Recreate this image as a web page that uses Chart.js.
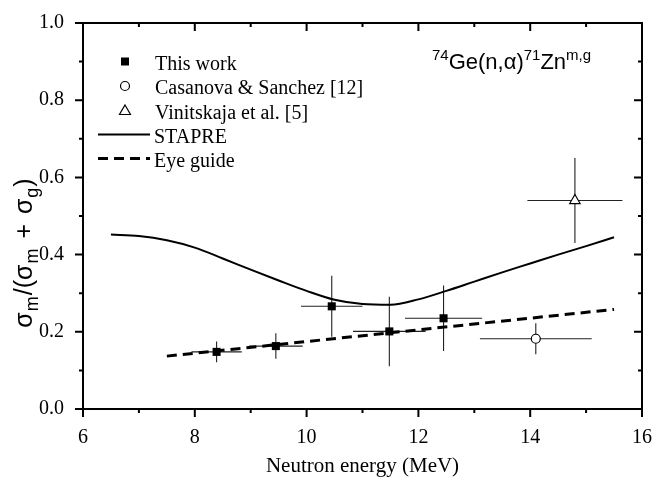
<!DOCTYPE html>
<html>
<head>
<meta charset="utf-8">
<script src="https://cdn.jsdelivr.net/npm/chart.js@4.4.0/dist/chart.umd.min.js"></script>
<style>
  html, body { margin: 0; padding: 0; background: #ffffff; }
  #wrap { width: 665px; height: 479px; }
</style>
</head>
<body>
<div id="wrap"><canvas id="c" width="665" height="479"></canvas></div>
<script>
// Isomeric cross-section ratio for 74Ge(n,alpha)71Zn(m,g)

// This work: neutron energy (MeV), ratio, and their uncertainties
const thisWorkE  = [8.39, 9.45, 10.45, 11.48, 12.45];
const thisWorkR  = [0.148, 0.163, 0.266, 0.201, 0.235];
const thisWorkDE = [0.45, 0.48, 0.55, 0.65, 0.69];
const thisWorkDR = [0.027, 0.033, 0.079, 0.090, 0.085];

// Casanova & Sanchez [12]
const casanovaE  = [14.1];
const casanovaR  = [0.182];
const casanovaDE = [1.0];
const casanovaDR = [0.040];

// Vinitskaja et al. [5]
const vinitE  = [14.8];
const vinitR  = [0.540];
const vinitDE = [0.85];
const vinitDR = [0.110];

// STAPRE model calculation
const stapreE = [6.5, 7.0, 7.5, 8.0, 8.5, 9.0, 9.5, 10.0, 10.5, 11.0, 11.5, 12.0, 12.5, 13.0, 13.5, 14.0, 14.5, 15.0, 15.5];
const stapreR = [0.452, 0.448, 0.437, 0.418, 0.390, 0.361, 0.333, 0.306, 0.283, 0.272, 0.270, 0.284, 0.306, 0.330, 0.354, 0.377, 0.400, 0.422, 0.445];

// Eye guide through the measured points
const guideE = [7.5, 15.5];
const guideR = [0.137, 0.258];

// Axis ticks
const xMajor = [6, 8, 10, 12, 14, 16];
const xMinor = [7, 9, 11, 13, 15];
const yMajor = [0.0, 0.2, 0.4, 0.6, 0.8, 1.0];
const yMinor = [0.1, 0.3, 0.5, 0.7, 0.9];

const legendLabels = ['This work', 'Casanova & Sanchez [12]', 'Vinitskaja et al. [5]', 'STAPRE', 'Eye guide'];

const SERIF = '"Liberation Serif", "Times New Roman", serif';
const SANS = '"Liberation Sans", Arial, sans-serif';

const pts = (xs, ys) => xs.map((x, i) => ({ x: x, y: ys[i] }));

const datasets = [
  {
    label: legendLabels[0], data: pts(thisWorkE, thisWorkR),
    errX: thisWorkDE, errY: thisWorkDR,
    pointStyle: 'rect', pointRadius: 5.7, pointBackgroundColor: '#000', pointBorderColor: '#000', pointBorderWidth: 0,
    showLine: false, order: 0
  },
  {
    label: legendLabels[1], data: pts(casanovaE, casanovaR),
    errX: casanovaDE, errY: casanovaDR,
    pointStyle: 'circle', pointRadius: 4.5, pointBackgroundColor: '#fff', pointBorderColor: '#000', pointBorderWidth: 1.2,
    showLine: false, order: 0
  },
  {
    label: legendLabels[2], data: pts(vinitE, vinitR),
    errX: vinitDE, errY: vinitDR,
    pointStyle: 'triangle', pointRadius: 6, pointBackgroundColor: '#fff', pointBorderColor: '#000', pointBorderWidth: 1.2,
    showLine: false, order: 0
  },
  {
    label: legendLabels[3], data: pts(stapreE, stapreR),
    showLine: true, borderColor: '#000', borderWidth: 2, pointRadius: 0,
    cubicInterpolationMode: 'monotone', fill: false, order: 2
  },
  {
    label: legendLabels[4], data: pts(guideE, guideR),
    showLine: true, borderColor: '#000', borderWidth: 3, borderDash: [10, 6], pointRadius: 0,
    fill: false, order: 1
  }
];

// Horizontal and vertical uncertainty bars, drawn beneath the markers
const errorBars = {
  id: 'errorBars',
  beforeDatasetsDraw(chart) {
    const { ctx, scales: { x, y } } = chart;
    ctx.save();
    ctx.strokeStyle = '#222';
    ctx.lineWidth = 1.1;
    chart.data.datasets.forEach(ds => {
      if (!ds.errX) return;
      ds.data.forEach((p, i) => {
        const px = x.getPixelForValue(p.x), py = y.getPixelForValue(p.y);
        const x0 = x.getPixelForValue(p.x - ds.errX[i]), x1 = x.getPixelForValue(p.x + ds.errX[i]);
        const y0 = y.getPixelForValue(p.y - ds.errY[i]), y1 = y.getPixelForValue(p.y + ds.errY[i]);
        ctx.beginPath();
        ctx.moveTo(x0, py); ctx.lineTo(x1, py);
        ctx.moveTo(px, y0); ctx.lineTo(px, y1);
        ctx.stroke();
      });
    });
    ctx.restore();
  }
};

// Box frame with outward ticks on bottom/left and inward ticks on top/right
const frame = {
  id: 'frame',
  afterDatasetsDraw(chart) {
    const { ctx, chartArea: { left, right, top, bottom }, scales: { x, y } } = chart;
    ctx.save();
    ctx.strokeStyle = '#000';
    ctx.lineWidth = 2;
    ctx.strokeRect(left, top, right - left, bottom - top);
    const major = 8, minor = 4;
    ctx.beginPath();
    const xt = (v, len) => {
      const px = x.getPixelForValue(v);
      ctx.moveTo(px, bottom); ctx.lineTo(px, bottom + len);
      ctx.moveTo(px, top); ctx.lineTo(px, top + len);
    };
    const yt = (v, len) => {
      const py = y.getPixelForValue(v);
      ctx.moveTo(left, py); ctx.lineTo(left - len, py);
      ctx.moveTo(right, py); ctx.lineTo(right - len, py);
    };
    xMajor.forEach(v => xt(v, major));
    xMinor.forEach(v => xt(v, minor));
    yMajor.forEach(v => yt(v, major));
    yMinor.forEach(v => yt(v, minor));
    ctx.stroke();
    ctx.restore();
  }
};

// Draw a run of text pieces with optional sub/superscripts
function drawRuns(ctx, runs, x, y) {
  let cx = x;
  runs.forEach(r => {
    ctx.font = r.font;
    ctx.fillText(r.t, cx, y + (r.dy || 0));
    cx += ctx.measureText(r.t).width + (r.gap || 0);
  });
  return cx;
}
function runsWidth(ctx, runs) {
  let w = 0;
  runs.forEach(r => { ctx.font = r.font; w += ctx.measureText(r.t).width + (r.gap || 0); });
  return w;
}

// Legend, reaction label and y-axis title
const annotations = {
  id: 'annotations',
  afterDraw(chart) {
    const { ctx } = chart;
    ctx.save();
    ctx.fillStyle = '#000';
    ctx.strokeStyle = '#000';
    ctx.textBaseline = 'alphabetic';
    ctx.textAlign = 'left';

    // legend
    const mx = 125, tx = 155;
    const base = [69.5, 94, 118.5, 142.5, 166.5];
    const ds = chart.data.datasets;
    for (let i = 0; i < 5; i++) {
      const my = base[i] - 8;
      ctx.lineWidth = 1.2;
      if (i === 0) {
        ctx.fillRect(mx - 4, my - 4, 8, 8);
      } else if (i === 1) {
        ctx.beginPath(); ctx.arc(mx, my, 4.5, 0, Math.PI * 2);
        ctx.fillStyle = '#fff'; ctx.fill(); ctx.stroke(); ctx.fillStyle = '#000';
      } else if (i === 2) {
        ctx.beginPath();
        ctx.moveTo(mx, my - 5.5); ctx.lineTo(mx + 5.5, my + 4); ctx.lineTo(mx - 5.5, my + 4); ctx.closePath();
        ctx.stroke();
      } else {
        ctx.beginPath();
        ctx.lineWidth = ds[i].borderWidth;
        ctx.setLineDash(ds[i].borderDash || []);
        ctx.moveTo(98, my); ctx.lineTo(150, my);
        ctx.stroke();
        ctx.setLineDash([]);
      }
      ctx.font = '20px ' + SERIF;
      ctx.fillText(ds[i].label, i >= 3 ? tx - 1 : tx, base[i]);
    }

    // reaction label
    const big = '22px ' + SANS, sup = '15px ' + SANS;
    drawRuns(ctx, [
      { t: '74', font: sup, dy: -9 },
      { t: 'Ge(n,\u03b1)', font: big },
      { t: '71', font: sup, dy: -9 },
      { t: 'Zn', font: big },
      { t: 'm,g', font: sup, dy: -9 }
    ], 432, 69);

    // y-axis title
    const yb = '25px ' + SANS, ys = '18px ' + SANS;
    const runs = [
      { t: '\u03c3', font: yb, gap: 1 },
      { t: 'm', font: ys, dy: 6, gap: 1 },
      { t: '/(\u03c3', font: yb, gap: 1 },
      { t: 'm', font: ys, dy: 6, gap: 3 },
      { t: '+', font: yb, gap: 3 },
      { t: '\u03c3', font: yb, gap: 1 },
      { t: 'g', font: ys, dy: 6, gap: 1 },
      { t: ')', font: yb }
    ];
    runs[4].t = ' + ';
    const w = runsWidth(ctx, runs);
    ctx.translate(32, 253);
    ctx.rotate(-Math.PI / 2);
    drawRuns(ctx, runs, -w / 2, 0);
    ctx.restore();
  }
};

new Chart(document.getElementById('c'), {
  type: 'scatter',
  data: { datasets: datasets },
  options: {
    responsive: false,
    animation: false,
    layout: { padding: { top: 15, right: 23, left: 0, bottom: 0 } },
    plugins: { legend: { display: false }, tooltip: { enabled: false } },
    scales: {
      x: {
        type: 'linear', min: 6, max: 16,
        afterBuildTicks: s => { s.ticks = xMajor.map(v => ({ value: v })); },
        afterFit: s => { s.height = 70; },
        grid: { display: false }, border: { display: false },
        ticks: { color: '#000', font: { family: SERIF, size: 20 }, padding: 9, maxRotation: 0 },
        title: { display: true, text: 'Neutron energy (MeV)', color: '#000', font: { family: SERIF, size: 21 }, padding: { top: 0, bottom: 0 } }
      },
      y: {
        type: 'linear', min: 0, max: 1,
        afterBuildTicks: s => { s.ticks = yMajor.map(v => ({ value: v })); },
        afterFit: s => { s.width = 83; },
        grid: { display: false }, border: { display: false },
        ticks: { color: '#000', font: { family: SERIF, size: 20 }, padding: 11, callback: v => Number(v).toFixed(1) }
      }
    }
  },
  plugins: [errorBars, frame, annotations]
});
</script>
</body>
</html>
